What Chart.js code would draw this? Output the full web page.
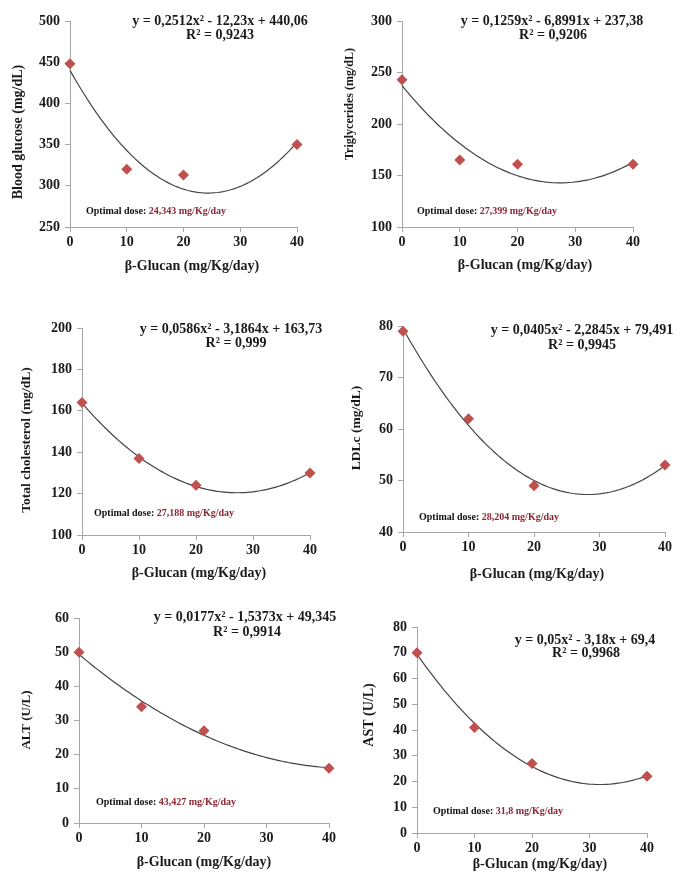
<!DOCTYPE html>
<html>
<head>
<meta charset="utf-8">
<script src="https://cdn.jsdelivr.net/npm/chart.js@4.4.1/dist/chart.umd.min.js"></script>
<style>
  html, body { margin: 0; padding: 0; background: #fff; }
  #wrap { position: relative; width: 685px; height: 890px; }
  .panel { position: absolute; }
</style>
</head>
<body>
<div id="wrap"></div>
<script>
// doses on the x axis
const doses = [0, 10, 20, 40];
const xTicks = [0, 10, 20, 30, 40];

const glucose = [448, 320, 313, 350];
const triglycerides = [243, 165, 161, 161];
const cholesterol = [164, 137, 124, 130];
const ldlc = [79, 62, 49, 53];
const alt = [50, 34, 27, 16];
const ast = [70, 41, 27, 22];

// polynomial trendline coefficients as printed [a, b, c] -> a*x^2 + b*x + c
const glucoseFit = [0.2512, -12.23, 440.06];
const triglyceridesFit = [0.1259, -6.8991, 237.38];
const cholesterolFit = [0.0586, -3.1864, 163.73];
const ldlcFit = [0.0405, -2.2845, 79.491];
const altFit = [0.0177, -1.5373, 49.345];
const astFit = [0.05, -3.18, 69.4];

// y tick labels
const glucoseTicks = [250, 300, 350, 400, 450, 500];
const triglyceridesTicks = [100, 150, 200, 250, 300];
const cholesterolTicks = [100, 120, 140, 160, 180, 200];
const ldlcTicks = [40, 50, 60, 70, 80];
const altTicks = [0, 10, 20, 30, 40, 50, 60];
const astTicks = [0, 10, 20, 30, 40, 50, 60, 70, 80];

// texts
const yTitles = ['Blood glucose (mg/dL)', 'Triglycerides (mg/dL)', 'Total cholesterol (mg/dL)', 'LDLc (mg/dL)', 'ALT (U/L)', 'AST (U/L)'];
const xTitle = 'β-Glucan (mg/Kg/day)';
const equations = ['y = 0,2512x² - 12,23x + 440,06', 'y = 0,1259x² - 6,8991x + 237,38', 'y = 0,0586x² - 3,1864x + 163,73',
  'y = 0,0405x² - 2,2845x + 79,491', 'y = 0,0177x² - 1,5373x + 49,345', 'y = 0,05x² - 3,18x + 69,4'];
const rSquared = ['R² = 0,9243', 'R² = 0,9206', 'R² = 0,999', 'R² = 0,9945', 'R² = 0,9914', 'R² = 0,9968'];
const optimalDoses = ['24,343 mg/Kg/day', '27,399 mg/Kg/day', '27,188 mg/Kg/day', '28,204 mg/Kg/day', '43,427 mg/Kg/day', '31,8 mg/Kg/day'];

const series = [glucose, triglycerides, cholesterol, ldlc, alt, ast];
const fits = [glucoseFit, triglyceridesFit, cholesterolFit, ldlcFit, altFit, astFit];
const yTickSets = [glucoseTicks, triglyceridesTicks, cholesterolTicks, ldlcTicks, altTicks, astTicks];

// layout (page pixels): panel box, plot area, title centres (+ y title size), annotation anchors
const layout = [
  { box: [0, 0, 340, 300],     area: [70, 297, 21, 227],   yT: [18, 132, 14],   xT: [192, 266], eq: [220, 21],  r2: [220, 35],  opt: [86, 211] },
  { box: [340, 0, 345, 300],   area: [402, 633, 21, 227],  yT: [350, 104, 12],  xT: [525, 265], eq: [552, 21],  r2: [553, 35],  opt: [417, 211] },
  { box: [0, 300, 340, 290],   area: [82, 310, 328, 535],  yT: [27, 440, 13.5], xT: [199, 573], eq: [231, 329], r2: [236, 343], opt: [94, 513] },
  { box: [340, 300, 345, 290], area: [403, 665, 326, 532], yT: [357, 428, 13.5], xT: [537, 574], eq: [582, 330], r2: [582, 345], opt: [419, 517] },
  { box: [0, 590, 340, 300],   area: [79, 329, 618, 823],  yT: [27, 720, 13],   xT: [204, 862], eq: [245, 617], r2: [247, 632], opt: [96, 802] },
  { box: [340, 590, 345, 300], area: [417, 647, 627, 833], yT: [369, 715, 14],  xT: [540, 864], eq: [585, 640], r2: [586, 653], opt: [433, 811] }
];

const FONT = "'Liberation Serif', 'Times New Roman', serif";
const INK = '#1a1a1a';

function trendPoints(c) {
  const pts = [];
  for (let x = 0; x <= 40; x += 0.5) {
    pts.push({ x: x, y: c[0] * x * x + c[1] * x + c[2] });
  }
  return pts;
}

const textPlugin = {
  id: 'panelText',
  afterDraw(chart, args, opts) {
    const ctx = chart.ctx;
    const ox = opts.ox, oy = opts.oy;
    ctx.save();
    ctx.fillStyle = INK;
    ctx.textAlign = 'center';
    ctx.textBaseline = 'middle';

    // axis titles
    ctx.font = 'bold 14px ' + FONT;
    ctx.fillText(xTitle, opts.xT[0] - ox, opts.xT[1] - oy);
    ctx.save();
    ctx.translate(opts.yT[0] - ox, opts.yT[1] - oy);
    ctx.rotate(-Math.PI / 2);
    ctx.font = 'bold ' + opts.yT[2] + 'px ' + FONT;
    ctx.fillText(opts.yTitle, 0, 0);
    ctx.restore();

    // trendline equation
    ctx.font = 'bold 14px ' + FONT;
    ctx.fillText(opts.eq, opts.eqPos[0] - ox, opts.eqPos[1] - oy);
    ctx.fillText(opts.r2, opts.r2Pos[0] - ox, opts.r2Pos[1] - oy);

    // optimal dose note
    ctx.font = 'bold 10px ' + FONT;
    ctx.textAlign = 'left';
    const label = 'Optimal dose: ';
    ctx.fillStyle = '#111';
    ctx.fillText(label, opts.optPos[0] - ox, opts.optPos[1] - oy);
    const w = ctx.measureText(label).width;
    ctx.fillStyle = '#8e2634';
    ctx.fillText(opts.opt, opts.optPos[0] - ox + w, opts.optPos[1] - oy);
    ctx.restore();
  }
};

const wrap = document.getElementById('wrap');

series.forEach(function(values, i) {
  const L = layout[i];
  const [bx, by, bw, bh] = L.box;
  const [al, ar, at, ab] = L.area;

  const div = document.createElement('div');
  div.className = 'panel';
  div.style.left = bx + 'px';
  div.style.top = by + 'px';
  div.style.width = bw + 'px';
  div.style.height = bh + 'px';
  const canvas = document.createElement('canvas');
  div.appendChild(canvas);
  wrap.appendChild(div);

  const yWidth = al - bx;
  const xHeight = bh - (ab - by);
  const padT = at - by;
  const padR = bx + bw - ar;

  const yt = yTickSets[i];

  new Chart(canvas.getContext('2d'), {
    type: 'scatter',
    data: {
      datasets: [{
        label: 'data',
        data: doses.map(function(d, k) { return { x: d, y: values[k] }; }),
        pointStyle: 'rectRot',
        pointRadius: 5.5,
        backgroundColor: '#c0504d',
        borderColor: '#c0504d',
        borderWidth: 0,
        clip: false,
        order: 1
      }, {
        label: 'fit',
        type: 'line',
        data: trendPoints(fits[i]),
        borderColor: '#444',
        borderWidth: 1.2,
        pointRadius: 0,
        fill: false,
        tension: 0,
        clip: false,
        order: 2
      }]
    },
    options: {
      responsive: true,
      maintainAspectRatio: false,
      animation: false,
      layout: { padding: { left: 0, right: padR, top: padT, bottom: 0 } },
      plugins: {
        legend: { display: false },
        tooltip: { enabled: false },
        panelText: {
          ox: bx, oy: by,
          yTitle: yTitles[i], yT: L.yT, xT: L.xT,
          eq: equations[i], r2: rSquared[i], opt: optimalDoses[i],
          eqPos: L.eq, r2Pos: L.r2, optPos: L.opt
        }
      },
      scales: {
        x: {
          type: 'linear',
          min: xTicks[0],
          max: xTicks[xTicks.length - 1],
          afterFit: function(s) { s.height = xHeight; },
          afterBuildTicks: function(s) { s.ticks = xTicks.map(function(v) { return { value: v }; }); },
          grid: { drawOnChartArea: false, color: '#a6a6a6', tickLength: 5, tickColor: '#a6a6a6' },
          border: { color: '#a6a6a6', width: 1 },
          ticks: { color: INK, padding: 2, font: { family: FONT, size: 14, weight: 'bold' } }
        },
        y: {
          min: yt[0],
          max: yt[yt.length - 1],
          afterFit: function(s) { s.width = yWidth; },
          afterBuildTicks: function(s) { s.ticks = yt.map(function(v) { return { value: v }; }); },
          grid: { drawOnChartArea: false, color: '#a6a6a6', tickLength: 5, tickColor: '#a6a6a6' },
          border: { color: '#a6a6a6', width: 1 },
          ticks: { color: INK, padding: 5, font: { family: FONT, size: 14, weight: 'bold' } }
        }
      }
    },
    plugins: [textPlugin]
  });
});
</script>
</body>
</html>
